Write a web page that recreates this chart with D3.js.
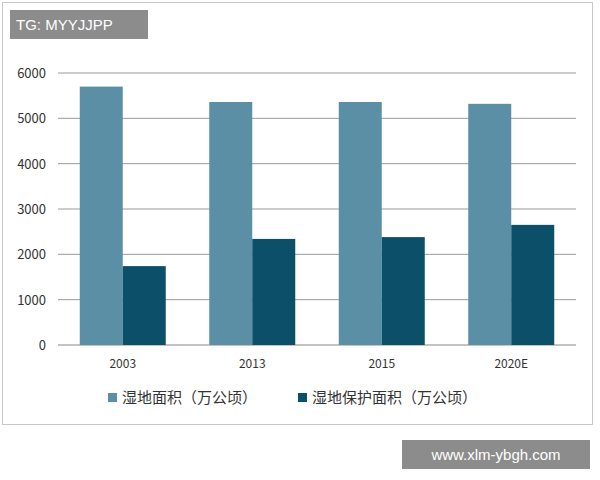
<!DOCTYPE html>
<html><head><meta charset="utf-8">
<script src="https://cdn.jsdelivr.net/npm/d3@7"></script>
<style>body{margin:0;background:#fff;font-family:"Noto Sans CJK SC","Liberation Sans",sans-serif}</style>
</head><body><svg id="c" width="600" height="480"></svg>
<script>
const years = ["2003", "2013", "2015", "2020E"];
const wetland = [5700, 5360, 5360, 5320];
const protectedArea = [1740, 2340, 2380, 2650];
const yTicks = [0, 1000, 2000, 3000, 4000, 5000, 6000];
const seriesNames = ["湿地面积（万公顷）", "湿地保护面积（万公顷）"];
const colors = ["#5b8fa6", "#0c4f69"];

const svg = d3.select("#c");
// frame
svg.append("rect").attr("x", 2.5).attr("y", 2.5).attr("width", 590).attr("height", 422)
    .attr("fill", "none").attr("stroke", "#c8c8c8");

const x = d3.scaleBand().domain(years).range([58, 576]);
const y = d3.scaleLinear().domain([0, 6000]).range([345, 73]);

// gridlines
svg.selectAll(".grid").data(yTicks).enter().append("line")
    .attr("x1", 58).attr("x2", 576)
    .attr("y1", d => y(d)).attr("y2", d => y(d))
    .attr("stroke", d => d === 0 ? "#888" : "#9a9a9a").attr("stroke-width", 1);

svg.selectAll(".yl").data(yTicks).enter().append("text")
    .attr("x", 46).attr("y", d => y(d) + 5).attr("text-anchor", "end")
    .attr("font-size", 13).attr("fill", "#333").text(d => d);

const bw = 43;
[wetland, protectedArea].forEach((vals, s) => {
    svg.selectAll(".b" + s).data(vals).enter().append("rect")
        .attr("x", (d, i) => x(years[i]) + x.bandwidth() / 2 - bw + s * bw)
        .attr("y", d => y(d)).attr("width", bw)
        .attr("height", d => y(0) - y(d)).attr("fill", colors[s]);
});

svg.selectAll(".xl").data(years).enter().append("text")
    .attr("x", d => x(d) + x.bandwidth() / 2).attr("y", 368).attr("text-anchor", "middle")
    .attr("font-size", 12).attr("fill", "#333").text(d => d);

// legend
const lx = [108, 298];
seriesNames.forEach((n, i) => {
    svg.append("rect").attr("x", lx[i]).attr("y", 393).attr("width", 9).attr("height", 9).attr("fill", colors[i]);
    svg.append("text").attr("x", lx[i] + 14).attr("y", 403).attr("font-size", 15).attr("fill", "#333").text(n);
});

// watermarks
svg.append("rect").attr("x", 10).attr("y", 10).attr("width", 138).attr("height", 29).attr("fill", "#8c8c8c");
svg.append("text").attr("x", 16).attr("y", 30).attr("font-size", 15).attr("fill", "#fff")
    .attr("font-family", "Liberation Sans").text("TG: MYYJJPP");
svg.append("rect").attr("x", 402).attr("y", 440).attr("width", 188).attr("height", 29).attr("fill", "#8c8c8c");
svg.append("text").attr("x", 496).attr("y", 460).attr("text-anchor", "middle").attr("font-size", 15)
    .attr("fill", "#fff").attr("font-family", "Liberation Sans").text("www.xlm-ybgh.com");
</script></body></html>
